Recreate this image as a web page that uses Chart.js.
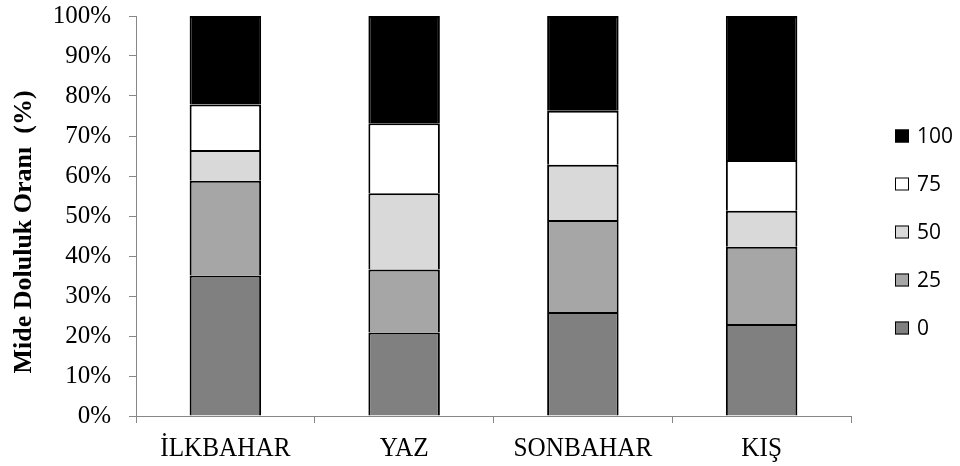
<!DOCTYPE html>
<html>
<head>
<meta charset="utf-8">
<script src="https://cdn.jsdelivr.net/npm/chart.js@4.4.1/dist/chart.umd.min.js"></script>
<style>
  html, body { margin: 0; padding: 0; background: #fff; }
  #wrap { width: 960px; height: 466px; }
</style>
</head>
<body>
<div id="wrap"><canvas id="c" width="960" height="466"></canvas></div>
<script>
// Seasons on the category axis
const seasons = ['İLKBAHAR', 'YAZ', 'SONBAHAR', 'KIŞ'];

// Share (%) of stomachs in each fullness class, per season
const fullness0   = [35.1, 20.9, 26.0, 23.0];
const fullness25  = [23.7, 15.7, 23.0, 19.3];
const fullness50  = [7.7, 19.1, 13.8, 9.0];
const fullness75  = [11.4, 17.5, 13.5, 12.7];
const fullness100 = [22.1, 26.8, 23.7, 36.0];

const fullnessLabels = ['0', '25', '50', '75', '100'];
const yTickLabels = ['0%', '10%', '20%', '30%', '40%', '50%', '60%', '70%', '80%', '90%', '100%'];
const yTitle = 'Mide Doluluk Oranı  (%)';

const fills = ['#808080', '#a6a6a6', '#d9d9d9', '#ffffff', '#000000'];
const series = [fullness0, fullness25, fullness50, fullness75, fullness100];

const axisGrey = '#878787';

// Category labels (slightly condensed serif), rotated axis title and the legend
const decor = {
  id: 'decor',
  afterDraw(chart) {
    const { ctx } = chart;
    const xs = chart.scales.x;
    ctx.save();
    ctx.fillStyle = '#000';

    ctx.font = '28px "Liberation Serif"';
    ctx.textAlign = 'center';
    ctx.textBaseline = 'alphabetic';
    chart.data.labels.forEach((lab, i) => {
      ctx.save();
      ctx.translate(xs.getPixelForValue(i), 456);
      ctx.scale(0.9, 1);
      ctx.fillText(lab, 0, 0);
      ctx.restore();
    });

    ctx.save();
    ctx.translate(24.5, 232);
    ctx.rotate(-Math.PI / 2);
    ctx.font = 'bold 26px "Liberation Serif"';
    ctx.textAlign = 'center';
    ctx.textBaseline = 'middle';
    ctx.fillText(yTitle, 0, 0);
    ctx.restore();

    const items = chart.data.datasets.slice().reverse();
    ctx.font = '21px "Open Sans"';
    ctx.textAlign = 'left';
    ctx.textBaseline = 'middle';
    items.forEach((ds, k) => {
      const cy = 136 + 48 * k;
      ctx.fillStyle = ds.backgroundColor;
      ctx.fillRect(895, cy - 6.5, 14, 13);
      ctx.strokeStyle = '#000';
      ctx.lineWidth = 1;
      ctx.strokeRect(895.5, cy - 6, 13, 12);
      ctx.fillStyle = '#000';
      ctx.fillText(ds.label, 917, cy + 1);
    });
    ctx.restore();
  }
};

new Chart(document.getElementById('c'), {
  type: 'bar',
  data: {
    labels: seasons,
    datasets: series.map((vals, i) => ({
      label: fullnessLabels[i],
      data: vals,
      backgroundColor: fills[i],
      borderColor: '#000',
      borderWidth: 2,
      barPercentage: 0.4,
      categoryPercentage: 1.0
    }))
  },
  options: {
    responsive: false,
    animation: false,
    devicePixelRatio: 1,
    layout: { padding: { left: 0, right: 109, top: 16, bottom: 0 } },
    plugins: {
      legend: { display: false },
      tooltip: { enabled: false }
    },
    scales: {
      x: {
        stacked: true,
        offset: true,
        grid: { display: true, drawOnChartArea: false, drawTicks: true, tickLength: 7, color: axisGrey, offset: true },
        border: { display: true, color: axisGrey, width: 1 },
        ticks: { display: false },
        afterFit(scale) { scale.height = 50; scale.paddingLeft = 0; scale.paddingRight = 0; }
      },
      y: {
        stacked: true,
        min: 0,
        max: 100,
        grid: { display: true, drawOnChartArea: false, drawTicks: true, tickLength: 7, color: axisGrey },
        border: { display: true, color: axisGrey, width: 1 },
        ticks: {
          stepSize: 10,
          padding: 18,
          color: '#000',
          font: { family: '"Liberation Serif"', size: 25 },
          callback: (v, i) => yTickLabels[i]
        },
        afterFit(scale) { scale.width = 136; scale.paddingTop = 0; scale.paddingBottom = 0; }
      }
    }
  },
  plugins: [decor]
});
</script>
</body>
</html>
